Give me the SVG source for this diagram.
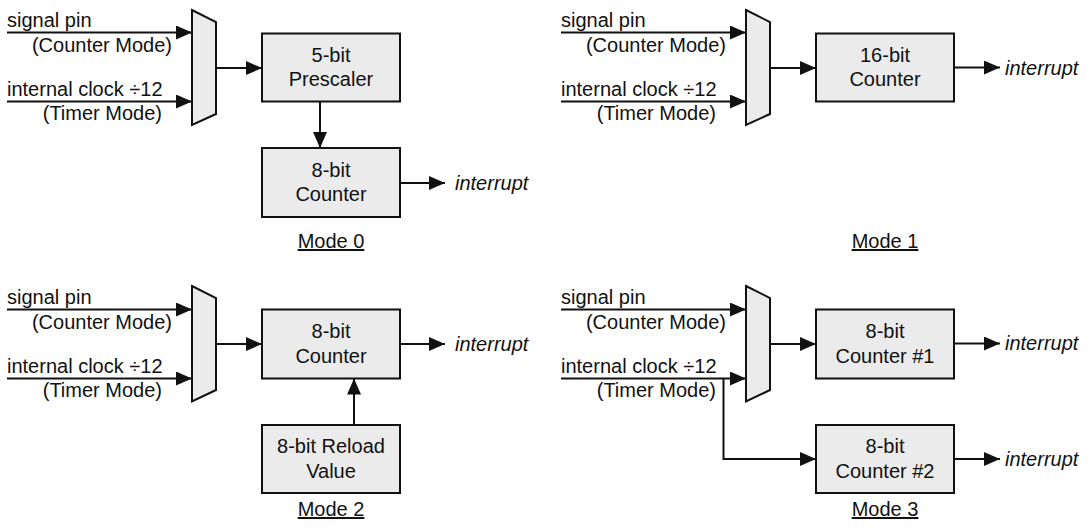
<svg xmlns="http://www.w3.org/2000/svg" width="1091" height="528" viewBox="0 0 1091 528">
<style>
  text { font-family: "Liberation Sans", Arial, Helvetica, sans-serif; font-size: 20px; fill: #111; }
  .c { text-anchor: middle; }
  .r { text-anchor: end; }
  .it { font-style: italic; }
  .lbl { text-anchor: middle; text-decoration: underline; }
  .box { fill: #ebebeb; stroke: #111; stroke-width: 2; }
  .mux { fill: #ebebeb; stroke: #111; stroke-width: 2; stroke-linejoin: miter; }
  .wire { fill: none; stroke: #111; stroke-width: 2; }
  .arr { marker-end: url(#ah); }
</style>
<defs>
  <marker id="ah" markerUnits="userSpaceOnUse" markerWidth="17" markerHeight="15" refX="16" refY="7" orient="auto" viewBox="0 0 17 15">
    <path d="M0,0 L16,7 L0,14 z" fill="#111"/>
  </marker>
</defs>

<!-- Mode 0 -->
<g id="m0-inputs">
  <text x="7" y="27">signal pin</text>
  <text class="r" x="172" y="52">(Counter Mode)</text>
  <text x="7" y="96">internal clock ÷12</text>
  <text class="r" x="162" y="120">(Timer Mode)</text>
</g>
<g id="m0-mux"><polygon class="mux" points="192,10 216,22 216,114 192,125"/></g>
<g id="m0-prescaler">
  <rect class="box" x="262" y="33.5" width="138" height="68"/>
  <text class="c" x="331" y="61.5">5-bit</text>
  <text class="c" x="331" y="86">Prescaler</text>
</g>
<g id="m0-counter">
  <rect class="box" x="262" y="148" width="138" height="69"/>
  <text class="c" x="331" y="176.5">8-bit</text>
  <text class="c" x="331" y="201">Counter</text>
</g>
<g id="m0-out"><text class="it" x="455" y="190">interrupt</text></g>
<g id="m0-label"><text class="lbl" x="331" y="248">Mode 0</text></g>

<!-- Mode 1 -->
<g id="m1-inputs">
  <text x="561" y="27">signal pin</text>
  <text class="r" x="726" y="52">(Counter Mode)</text>
  <text x="561" y="96">internal clock ÷12</text>
  <text class="r" x="716" y="120">(Timer Mode)</text>
</g>
<g id="m1-mux"><polygon class="mux" points="746,10 770,22 770,114 746,125"/></g>
<g id="m1-counter">
  <rect class="box" x="816" y="33.5" width="138" height="68"/>
  <text class="c" x="885" y="61.5">16-bit</text>
  <text class="c" x="885" y="86">Counter</text>
</g>
<g id="m1-out"><text class="it" x="1005" y="74.5">interrupt</text></g>
<g id="m1-label"><text class="lbl" x="885" y="248">Mode 1</text></g>

<!-- Mode 2 -->
<g id="m2-inputs">
  <text x="7" y="304">signal pin</text>
  <text class="r" x="172" y="329">(Counter Mode)</text>
  <text x="7" y="373">internal clock ÷12</text>
  <text class="r" x="162" y="397">(Timer Mode)</text>
</g>
<g id="m2-mux"><polygon class="mux" points="192,286 216,298 216,390 192,401.5"/></g>
<g id="m2-counter">
  <rect class="box" x="262" y="309.5" width="138" height="69"/>
  <text class="c" x="331" y="338">8-bit</text>
  <text class="c" x="331" y="362.5">Counter</text>
</g>
<g id="m2-reload">
  <rect class="box" x="262" y="425" width="138" height="68"/>
  <text class="c" x="331" y="453">8-bit Reload</text>
  <text class="c" x="331" y="477.5">Value</text>
</g>
<g id="m2-out"><text class="it" x="455" y="351">interrupt</text></g>
<g id="m2-label"><text class="lbl" x="331" y="516">Mode 2</text></g>

<!-- Mode 3 -->
<g id="m3-inputs">
  <text x="561" y="304">signal pin</text>
  <text class="r" x="726" y="329">(Counter Mode)</text>
  <text x="561" y="373">internal clock ÷12</text>
  <text class="r" x="716" y="397">(Timer Mode)</text>
</g>
<g id="m3-mux"><polygon class="mux" points="746,286 770,298 770,390 746,401.5"/></g>
<g id="m3-counter1">
  <rect class="box" x="816" y="309.5" width="138" height="69"/>
  <text class="c" x="885" y="338">8-bit</text>
  <text class="c" x="885" y="362.5">Counter #1</text>
</g>
<g id="m3-counter2">
  <rect class="box" x="816" y="425" width="138" height="68"/>
  <text class="c" x="885" y="453">8-bit</text>
  <text class="c" x="885" y="477.5">Counter #2</text>
</g>
<g id="m3-out">
  <text class="it" x="1005" y="350">interrupt</text>
  <text class="it" x="1005" y="465.5">interrupt</text>
</g>
<g id="m3-label"><text class="lbl" x="885" y="516">Mode 3</text></g>

<!-- Connectors -->
<g id="connectors">
  <!-- Mode 0 -->
  <line class="wire arr" x1="7" y1="32.5" x2="192" y2="32.5"/>
  <line class="wire arr" x1="7" y1="101.5" x2="192" y2="101.5"/>
  <line class="wire arr" x1="216" y1="68" x2="262" y2="68"/>
  <line class="wire arr" x1="320" y1="101.5" x2="320" y2="148"/>
  <line class="wire arr" x1="400" y1="183" x2="445" y2="183"/>
  <!-- Mode 1 -->
  <line class="wire arr" x1="561" y1="32.5" x2="746" y2="32.5"/>
  <line class="wire arr" x1="561" y1="101.5" x2="746" y2="101.5"/>
  <line class="wire arr" x1="770" y1="68" x2="816" y2="68"/>
  <line class="wire arr" x1="954" y1="67.5" x2="1000" y2="67.5"/>
  <!-- Mode 2 -->
  <line class="wire arr" x1="7" y1="309.5" x2="192" y2="309.5"/>
  <line class="wire arr" x1="7" y1="378.5" x2="192" y2="378.5"/>
  <line class="wire arr" x1="216" y1="344" x2="262" y2="344"/>
  <line class="wire arr" x1="400" y1="344" x2="445" y2="344"/>
  <line class="wire arr" x1="354" y1="425" x2="354" y2="378.5"/>
  <!-- Mode 3 -->
  <line class="wire arr" x1="561" y1="309.5" x2="746" y2="309.5"/>
  <line class="wire arr" x1="561" y1="378.5" x2="746" y2="378.5"/>
  <line class="wire arr" x1="770" y1="344" x2="816" y2="344"/>
  <path class="wire arr" d="M723.5,378.5 V459 H816"/>
  <line class="wire arr" x1="954" y1="343.5" x2="1000" y2="343.5"/>
  <line class="wire arr" x1="954" y1="459" x2="1000" y2="459"/>
</g>
</svg>
